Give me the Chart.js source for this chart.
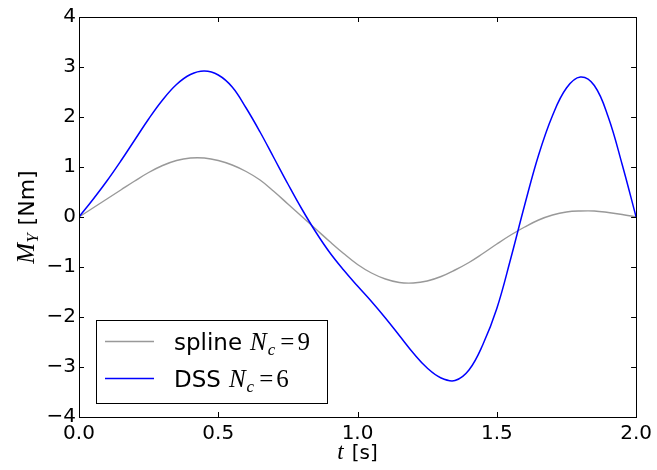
<!DOCTYPE html>
<html>
<head>
<meta charset="utf-8">
<script src="https://cdn.jsdelivr.net/npm/chart.js@4/dist/chart.umd.min.js"></script>
<style>
  html, body { margin: 0; padding: 0; background: #fff; }
  #wrap { width: 657px; height: 470px; }
</style>
</head>
<body>
<div id="wrap"><canvas id="c" width="657" height="470"></canvas></div>
<script>
// Time samples [s]
const tValues = [0.00, 0.05, 0.10, 0.15, 0.20, 0.25, 0.30, 0.35, 0.40, 0.45,
                 0.50, 0.55, 0.60, 0.65, 0.70, 0.75, 0.80, 0.85, 0.90, 0.95,
                 1.00, 1.05, 1.10, 1.15, 1.20, 1.25, 1.30, 1.35, 1.40, 1.45,
                 1.50, 1.55, 1.60, 1.65, 1.70, 1.75, 1.80, 1.85, 1.90, 1.95, 2.00];

// Moment M_Y [Nm], spline with 9 control points
const splineValues = [0.00, 0.18, 0.36, 0.54, 0.72, 0.89, 1.03, 1.13, 1.18, 1.18,
                      1.13, 1.04, 0.91, 0.74, 0.51, 0.26, 0.01, -0.24, -0.49, -0.73,
                      -0.95, -1.12, -1.24, -1.31, -1.32, -1.28, -1.19, -1.06, -0.91, -0.73,
                      -0.54, -0.36, -0.20, -0.06, 0.04, 0.10, 0.12, 0.12, 0.09, 0.05, 0.00];

// Moment M_Y [Nm], DSS with 6 control points
const dssValues = [0.00, 0.35, 0.72, 1.12, 1.54, 1.96, 2.34, 2.65, 2.85, 2.92,
                   2.84, 2.60, 2.18, 1.70, 1.18, 0.66, 0.16, -0.30, -0.71, -1.06,
                   -1.38, -1.69, -2.02, -2.37, -2.72, -3.02, -3.22, -3.27, -3.06, -2.55,
                   -1.83, -0.83, 0.24, 1.24, 2.03, 2.58, 2.80, 2.63, 2.00, 1.05, 0.00];

const xTicks = [0.0, 0.5, 1.0, 1.5, 2.0];
const yTicks = [-4, -3, -2, -1, 0, 1, 2, 3, 4];

const SANS = "'DejaVu Sans', sans-serif";
const SERIF = "'Liberation Serif', 'DejaVu Serif', serif";

function toPoints(xs, ys) { return xs.map((x, i) => ({ x: x, y: ys[i] })); }

// Text runs with individual fonts and vertical offsets
function richWidth(ctx, parts) {
  let w = 0;
  for (const p of parts) { ctx.font = p.font; w += ctx.measureText(p.text).width + (p.gap || 0); }
  return w;
}
function drawRich(ctx, parts, x, y, align) {
  let cx = x;
  if (align === 'center') cx = x - richWidth(ctx, parts) / 2;
  ctx.textBaseline = 'alphabetic';
  ctx.textAlign = 'left';
  for (const p of parts) {
    ctx.font = p.font;
    ctx.fillText(p.text, cx, y + (p.dy || 0));
    cx += ctx.measureText(p.text).width + (p.gap || 0);
  }
}

const frameAndLabels = {
  id: 'frameAndLabels',
  afterDraw(chart) {
    const ctx = chart.ctx;
    const a = chart.chartArea;
    const xs = chart.scales.x, ys = chart.scales.y;
    ctx.save();
    // frame
    ctx.strokeStyle = '#000';
    ctx.lineWidth = 1;
    ctx.strokeRect(Math.round(a.left) + 0.5, Math.round(a.top) + 0.5,
                   Math.round(a.right - a.left), Math.round(a.bottom - a.top));
    // inward tick marks on all four sides
    const L = 5;
    ctx.beginPath();
    for (const v of xTicks) {
      const px = Math.round(xs.getPixelForValue(v)) + 0.5;
      ctx.moveTo(px, a.bottom); ctx.lineTo(px, a.bottom - L);
      ctx.moveTo(px, a.top); ctx.lineTo(px, a.top + L);
    }
    for (const v of yTicks) {
      const py = Math.round(ys.getPixelForValue(v)) + 0.5;
      ctx.moveTo(a.left, py); ctx.lineTo(a.left + L, py);
      ctx.moveTo(a.right, py); ctx.lineTo(a.right - L, py);
    }
    ctx.stroke();

    ctx.fillStyle = '#000';
    // x axis title
    drawRich(ctx, [
      { text: 't', font: 'italic 23px ' + SERIF, gap: 8 },
      { text: '[s]', font: '20px ' + SANS }
    ], (a.left + a.right) / 2, 459, 'center');

    // y axis title
    ctx.save();
    ctx.translate(34, 217);
    ctx.rotate(-Math.PI / 2);
    drawRich(ctx, [
      { text: 'M', font: 'italic 25px ' + SERIF },
      { text: 'Y', font: 'italic 17px ' + SERIF, dy: 4, gap: 8 },
      { text: '[Nm]', font: '22px ' + SANS }
    ], 0, 0, 'center');
    ctx.restore();

    // legend
    const lx = 96.5, ly = 320.5, lw = 231, lh = 83;
    ctx.fillStyle = '#fff';
    ctx.fillRect(lx, ly, lw, lh);
    ctx.strokeStyle = '#000';
    ctx.lineWidth = 1;
    ctx.strokeRect(lx, ly, lw, lh);
    const rows = [
      { ds: chart.data.datasets[0], name: 'spline', nc: '9', lineY: 341.5, base: 349.5 },
      { ds: chart.data.datasets[1], name: 'DSS', nc: '6', lineY: 378.5, base: 386.5 }
    ];
    for (const r of rows) {
      ctx.strokeStyle = r.ds.borderColor;
      ctx.lineWidth = r.ds.borderWidth;
      ctx.beginPath();
      ctx.moveTo(105, r.lineY); ctx.lineTo(154, r.lineY);
      ctx.stroke();
      ctx.fillStyle = '#000';
      drawRich(ctx, [
        { text: r.name, font: '23px ' + SANS, gap: 8 },
        { text: 'N', font: 'italic 25px ' + SERIF, gap: 1 },
        { text: 'c', font: 'italic 17px ' + SERIF, dy: 5, gap: 5 },
        { text: '=', font: '25px ' + SERIF, gap: 3 },
        { text: r.nc, font: '25px ' + SERIF }
      ], 174, r.base, 'left');
    }
    ctx.restore();
  }
};

new Chart(document.getElementById('c'), {
  type: 'line',
  data: {
    datasets: [
      {
        label: 'spline Nc=9',
        data: toPoints(tValues, splineValues),
        borderColor: '#999999',
        borderWidth: 1.4,
        pointRadius: 0,
        tension: 0.4,
        fill: false,
        order: 2
      },
      {
        label: 'DSS Nc=6',
        data: toPoints(tValues, dssValues),
        borderColor: '#0000ff',
        borderWidth: 1.5,
        pointRadius: 0,
        tension: 0.4,
        fill: false,
        order: 1
      }
    ]
  },
  options: {
    responsive: false,
    animation: false,
    events: [],
    layout: { padding: { left: 0, top: 17, right: 20, bottom: 0 } },
    plugins: { legend: { display: false }, tooltip: { enabled: false } },
    scales: {
      x: {
        type: 'linear',
        min: 0, max: 2,
        afterBuildTicks(scale) { scale.ticks = xTicks.map(v => ({ value: v })); },
        afterFit(scale) { scale.height = 53; },
        grid: { display: false, drawTicks: false },
        border: { display: false },
        ticks: {
          padding: 5,
          color: '#000',
          font: { family: SANS, size: 20 },
          maxRotation: 0,
          callback: v => Number(v).toFixed(1)
        }
      },
      y: {
        type: 'linear',
        min: -4, max: 4,
        afterBuildTicks(scale) { scale.ticks = yTicks.map(v => ({ value: v })); },
        afterFit(scale) { scale.width = 79; },
        grid: { display: false, drawTicks: false },
        border: { display: false },
        ticks: {
          padding: 3,
          color: '#000',
          font: { family: SANS, size: 20 },
          callback: v => String(v).replace('-', '\u2212')
        }
      }
    }
  },
  plugins: [frameAndLabels]
});
</script>
</body>
</html>
